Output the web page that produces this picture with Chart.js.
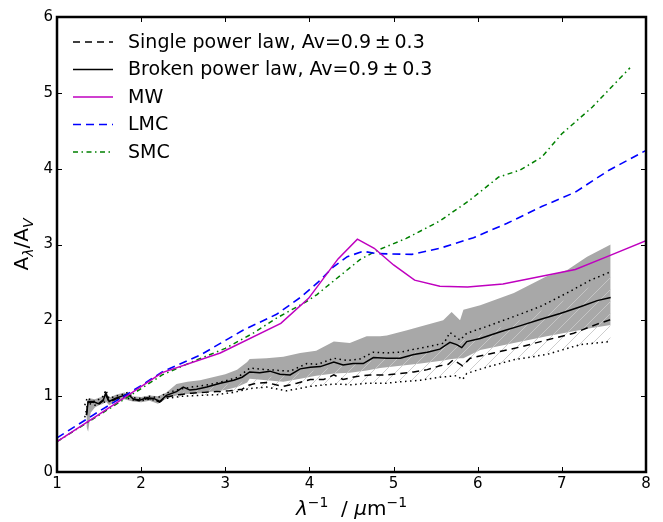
<!DOCTYPE html>
<html>
<head>
<meta charset="utf-8">
<script src="https://cdn.jsdelivr.net/npm/chart.js@4"></script>
<style>
  body { margin: 0; background: #fff; }
  #wrap { width: 663px; height: 522px; }
</style>
</head>
<body>
<div id="wrap"><canvas id="extChart" width="663" height="522"></canvas></div>
<script>
// Axis ticks
const xTicks = [1, 2, 3, 4, 5, 6, 7, 8];
const yTicks = [0, 1, 2, 3, 4, 5, 6];

// Broken power law fit (solid black)
const brokenX = [1.35,1.37,1.43,1.49,1.55,1.58,1.62,1.69,1.77,1.84,1.91,1.99,2.07,2.15,2.22,2.30,2.42,2.50,2.58,2.66,2.78,2.94,3.10,3.20,3.29,3.41,3.53,3.65,3.77,3.89,4.01,4.13,4.29,4.40,4.52,4.64,4.76,4.92,5.08,5.24,5.40,5.55,5.67,5.75,5.81,5.87,6.03,6.27,6.51,6.74,6.98,7.22,7.42,7.58];
const brokenY = [0.75,0.93,0.93,0.90,0.95,1.04,0.93,0.97,1.00,1.03,0.96,0.95,0.98,0.97,0.93,1.01,1.06,1.12,1.08,1.09,1.12,1.17,1.21,1.25,1.32,1.31,1.33,1.29,1.28,1.36,1.38,1.39,1.45,1.41,1.43,1.43,1.51,1.50,1.50,1.55,1.58,1.62,1.71,1.68,1.64,1.72,1.76,1.85,1.93,2.01,2.09,2.18,2.26,2.30];

// Single power law fit (dashed black)
const singleX = [1.35,1.37,1.43,1.49,1.55,1.58,1.62,1.69,1.77,1.84,1.91,1.99,2.07,2.15,2.22,2.30,2.45,2.60,2.75,2.90,3.05,3.20,3.26,3.37,3.49,3.60,3.69,3.85,4.01,4.17,4.29,4.40,4.56,4.72,4.92,5.08,5.24,5.40,5.55,5.65,5.71,5.82,5.91,6.19,6.51,6.82,7.14,7.42,7.58];
const singleY = [0.75,0.92,0.92,0.89,0.94,1.02,0.92,0.96,0.99,1.02,0.96,0.94,0.97,0.96,0.92,0.99,1.02,1.04,1.05,1.06,1.07,1.09,1.14,1.17,1.18,1.15,1.13,1.17,1.22,1.22,1.28,1.22,1.26,1.28,1.28,1.30,1.32,1.35,1.40,1.42,1.48,1.40,1.50,1.57,1.65,1.74,1.83,1.95,2.01];

// Dotted curves above and below
const dotUpX = [1.33,1.36,1.40,1.45,1.50,1.55,1.58,1.62,1.70,1.77,1.84,1.91,2.0,2.1,2.2,2.3,2.45,2.6,2.8,3.0,3.15,3.29,3.49,3.77,3.97,4.10,4.29,4.45,4.60,4.76,4.92,5.08,5.25,5.44,5.60,5.67,5.79,5.87,6.11,6.43,6.74,7.06,7.34,7.58];
const dotUpY = [0.88,0.98,0.95,0.93,0.96,1.00,1.08,0.97,1.00,1.02,1.05,0.98,0.97,1.00,0.98,1.04,1.09,1.12,1.15,1.20,1.25,1.37,1.35,1.33,1.43,1.42,1.50,1.47,1.49,1.58,1.57,1.58,1.62,1.66,1.70,1.84,1.74,1.83,1.92,2.05,2.18,2.36,2.53,2.64];
const dotLoX = [1.33,1.36,1.40,1.45,1.55,1.62,1.70,1.80,1.90,2.0,2.1,2.2,2.3,2.5,2.7,2.9,3.1,3.29,3.49,3.73,4.01,4.29,4.50,4.68,4.90,5.08,5.32,5.55,5.75,5.82,5.87,6.10,6.43,6.82,7.22,7.58];
const dotLoY = [0.72,0.88,0.90,0.88,0.92,0.93,0.96,0.99,0.95,0.94,0.96,0.94,0.97,1.00,1.01,1.02,1.05,1.10,1.12,1.07,1.13,1.16,1.15,1.17,1.17,1.19,1.21,1.25,1.27,1.22,1.30,1.38,1.48,1.55,1.68,1.72];

// Grey uncertainty band (broken power law)
const bandX = [1.35,1.37,1.40,1.45,1.50,1.55,1.58,1.62,1.70,1.80,1.90,2.0,2.1,2.2,2.3,2.42,2.55,2.70,2.85,3.0,3.14,3.26,3.29,3.49,3.69,3.89,4.08,4.29,4.48,4.68,4.84,4.92,5.16,5.32,5.59,5.69,5.79,5.83,6.03,6.43,6.82,7.06,7.30,7.58];
const bandUp = [0.85,0.97,0.97,0.96,0.98,1.00,1.07,0.98,1.02,1.05,1.00,0.99,1.01,1.00,1.05,1.16,1.19,1.21,1.25,1.29,1.35,1.45,1.49,1.50,1.52,1.57,1.60,1.72,1.70,1.79,1.79,1.80,1.87,1.92,2.00,2.11,2.00,2.14,2.20,2.36,2.58,2.66,2.84,3.00];
const bandLo = [0.60,0.53,0.78,0.85,0.88,0.90,0.93,0.88,0.93,0.96,0.93,0.92,0.94,0.90,0.97,1.01,1.03,1.04,1.06,1.08,1.12,1.18,1.23,1.21,1.19,1.23,1.27,1.30,1.31,1.34,1.37,1.38,1.41,1.43,1.47,1.49,1.50,1.50,1.61,1.70,1.79,1.84,1.89,1.94];

// Hatched uncertainty band (single power law)
const hatchX = [2.3,2.6,3.0,3.5,4.0,4.5,5.0,5.5,6.0,6.5,7.0,7.58];
const hatchUp = [1.00,1.08,1.15,1.25,1.33,1.42,1.52,1.64,1.80,2.00,2.25,2.58];
const hatchLo = [0.96,1.00,1.04,1.11,1.13,1.16,1.19,1.24,1.36,1.49,1.62,1.72];

// Reference extinction curves
const mwX = [1.0,1.5,2.25,2.94,3.66,3.99,4.34,4.57,4.77,5.0,5.25,5.55,5.88,6.3,6.76,7.16,7.56,8.0];
const mwY = [0.40,0.76,1.31,1.57,1.96,2.29,2.81,3.07,2.95,2.73,2.53,2.45,2.44,2.48,2.58,2.67,2.85,3.05];
const lmcX = [1.0,1.5,2.0,2.25,2.7,3.21,3.61,3.89,4.1,4.29,4.45,4.64,4.80,5.22,5.55,5.95,6.35,6.76,7.16,7.56,8.0];
const lmcY = [0.45,0.80,1.14,1.32,1.54,1.87,2.08,2.30,2.50,2.71,2.84,2.91,2.88,2.87,2.95,3.09,3.28,3.50,3.69,3.98,4.24];
const smcX = [1.0,1.5,2.0,2.25,2.6,3.0,3.33,3.61,3.97,4.09,4.21,4.40,4.60,4.80,5.15,5.55,5.9,6.25,6.5,6.76,7.0,7.36,7.81];
const smcY = [0.40,0.75,1.10,1.28,1.45,1.63,1.83,2.03,2.25,2.34,2.45,2.62,2.80,2.92,3.08,3.31,3.58,3.89,3.98,4.15,4.46,4.81,5.33];

const legendLabels = ['Single power law, Av=0.9\u2009\u00b1\u20090.3', 'Broken power law, Av=0.9\u2009\u00b1\u20090.3', 'MW', 'LMC', 'SMC'];

const FONT = '"DejaVu Sans", "Liberation Sans", sans-serif';

function pts(xs, ys) {
  return xs.map((x, i) => ({ x: x, y: ys[i] }));
}

function hatchPattern() {
  const c = document.createElement('canvas');
  c.width = 12; c.height = 12;
  const g = c.getContext('2d');
  g.strokeStyle = 'rgba(200,200,200,0.9)';
  g.lineWidth = 1;
  g.beginPath();
  g.moveTo(0, 12); g.lineTo(12, 0);
  g.moveTo(-6, 6); g.lineTo(6, -6);
  g.moveTo(6, 18); g.lineTo(18, 6);
  g.stroke();
  return g.createPattern(c, 'repeat');
}

const styles = [
  { color: '#000000', dash: [7, 5], width: 1.5 },
  { color: '#000000', dash: [], width: 1.5 },
  { color: '#bf00bf', dash: [], width: 1.5 },
  { color: '#0000ff', dash: [8, 5], width: 1.6 },
  { color: '#008000', dash: [5, 3.5, 1.5, 3.5], width: 1.5 }
];

function lineSet(data, st, order) {
  return {
    data: data, borderColor: st.color, borderDash: st.dash, borderWidth: st.width,
    pointRadius: 0, fill: false, tension: 0, order: order
  };
}

const dotted = { color: '#000000', dash: [1.5, 3.5], width: 1.5 };

const datasets = [
  // 0,1 grey band
  { data: pts(bandX, bandUp), borderWidth: 0, pointRadius: 0, backgroundColor: '#a8a8a8', fill: '+1', order: 20 },
  { data: pts(bandX, bandLo), borderWidth: 0, pointRadius: 0, fill: false, order: 21 },
  // 2,3 hatched band
  { data: pts(hatchX, hatchUp), borderWidth: 0, pointRadius: 0, backgroundColor: hatchPattern(), fill: '+1', order: 18 },
  { data: pts(hatchX, hatchLo), borderWidth: 0, pointRadius: 0, fill: false, order: 19 },
  lineSet(pts(dotUpX, dotUpY), dotted, 8),
  lineSet(pts(dotLoX, dotLoY), dotted, 8),
  lineSet(pts(singleX, singleY), styles[0], 6),
  lineSet(pts(brokenX, brokenY), styles[1], 5),
  lineSet(pts(smcX, smcY), styles[4], 3),
  lineSet(pts(lmcX, lmcY), styles[3], 2),
  lineSet(pts(mwX, mwY), styles[2], 1)
];

// inward ticks, thick frame, legend and axis titles
const decorPlugin = {
  id: 'decor',
  afterDatasetsDraw(chart) {
    const ctx = chart.ctx;
    const a = chart.chartArea;
    ctx.save();
    // legend
    ctx.font = '19px ' + FONT;
    ctx.textBaseline = 'middle';
    ctx.fillStyle = '#000';
    legendLabels.forEach((lab, i) => {
      const y = 42 + i * 27.5;
      const st = styles[i];
      ctx.beginPath();
      ctx.setLineDash(st.dash);
      ctx.strokeStyle = st.color;
      ctx.lineWidth = st.width;
      ctx.moveTo(73, y); ctx.lineTo(113, y);
      ctx.stroke();
      ctx.fillText(lab, 128, y + 1);
    });
    ctx.setLineDash([]);
    // ticks
    ctx.strokeStyle = '#000';
    ctx.lineWidth = 1;
    const xs = chart.scales.x, ys = chart.scales.y;
    ctx.beginPath();
    xTicks.forEach(v => {
      const p = Math.round(xs.getPixelForValue(v)) + 0.5;
      ctx.moveTo(p, a.bottom); ctx.lineTo(p, a.bottom - 5);
      ctx.moveTo(p, a.top); ctx.lineTo(p, a.top + 5);
    });
    yTicks.forEach(v => {
      const p = Math.round(ys.getPixelForValue(v)) + 0.5;
      ctx.moveTo(a.left, p); ctx.lineTo(a.left + 5, p);
      ctx.moveTo(a.right, p); ctx.lineTo(a.right - 5, p);
    });
    ctx.stroke();
    ctx.lineWidth = 2.5;
    ctx.strokeRect(a.left, a.top, a.right - a.left, a.bottom - a.top);

    // y title: A_lambda / A_V
    const big = '20px ' + FONT, small = 'italic 14px ' + FONT;
    const parts = [['A', big, 0], ['\u03bb', small, 5], ['/A', big, 0], ['V', small, 5]];
    let w = 0;
    parts.forEach(p => { ctx.font = p[1]; w += ctx.measureText(p[0]).width; });
    ctx.translate(28, (a.top + a.bottom) / 2);
    ctx.rotate(-Math.PI / 2);
    ctx.textBaseline = 'alphabetic';
    let cx = -w / 2;
    parts.forEach(p => {
      ctx.font = p[1];
      ctx.fillText(p[0], cx, p[2]);
      cx += ctx.measureText(p[0]).width;
    });
    ctx.setTransform(1, 0, 0, 1, 0, 0);
    ctx.restore();

    // x title: lambda^-1 / mu m^-1
    ctx.save();
    ctx.fillStyle = '#000';
    const it = 'italic 20px ' + FONT, sup = '14px ' + FONT;
    const xparts = [['\u03bb', it, 0], ['\u22121', sup, -8], ['  / ', big, 0], ['\u03bc', it, 0], ['m', big, 0], ['\u22121', sup, -8]];
    let xw = 0;
    xparts.forEach(p => { ctx.font = p[1]; xw += ctx.measureText(p[0]).width; });
    let px = (a.left + a.right) / 2 - xw / 2;
    const base = 515;
    ctx.textBaseline = 'alphabetic';
    xparts.forEach(p => {
      ctx.font = p[1];
      ctx.fillText(p[0], px, base + p[2]);
      px += ctx.measureText(p[0]).width;
    });
    ctx.restore();
  }
};

new Chart(document.getElementById('extChart').getContext('2d'), {
  type: 'line',
  data: { datasets: datasets },
  options: {
    responsive: false,
    animation: false,
    events: [],
    layout: { padding: { top: 17, right: 17, left: 0, bottom: 0 } },
    plugins: { legend: { display: false }, tooltip: { enabled: false } },
    scales: {
      x: {
        type: 'linear', min: 1, max: 8,
        afterBuildTicks: s => { s.ticks = xTicks.map(v => ({ value: v })); },
        afterFit: s => { s.height = 50; },
        grid: { display: false, drawTicks: false },
        border: { display: false },
        ticks: { color: '#000', font: { family: FONT, size: 15 }, padding: 3, maxRotation: 0 }
      },
      y: {
        type: 'linear', min: 0, max: 6,
        afterBuildTicks: s => { s.ticks = yTicks.map(v => ({ value: v })); },
        afterFit: s => { s.width = 57; },
        grid: { display: false, drawTicks: false },
        border: { display: false },
        ticks: { color: '#000', font: { family: FONT, size: 15 }, padding: 4 }
      }
    }
  },
  plugins: [decorPlugin]
});
</script>
</body>
</html>
